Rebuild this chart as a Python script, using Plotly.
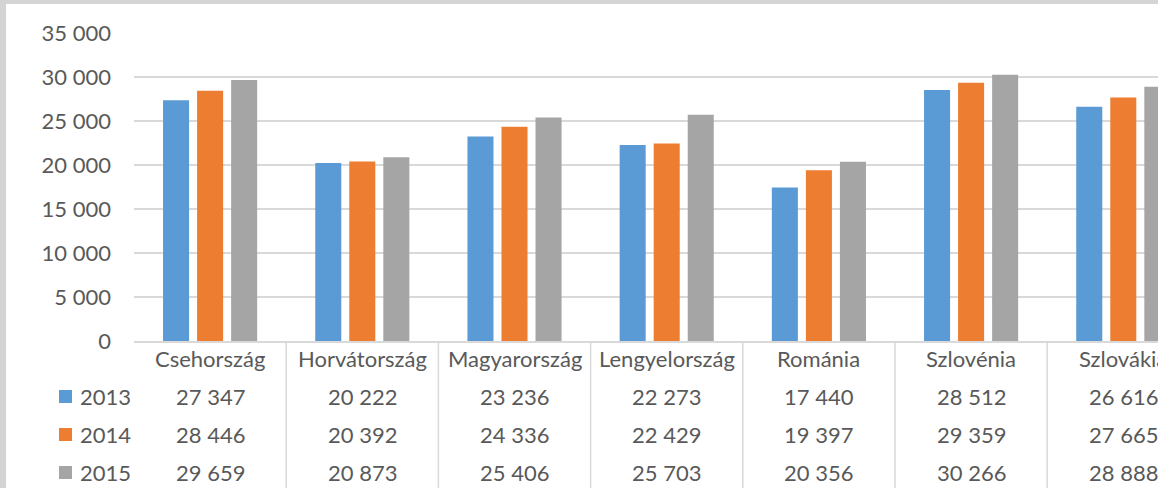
import plotly.graph_objects as go

categories = ["Csehország", "Horvátország", "Magyarország", "Lengyelország",
              "Románia", "Szlovénia", "Szlovákia"]
years = ["2013", "2014", "2015"]
v2013 = [27347, 20222, 23236, 22273, 17440, 28512, 26616]
v2014 = [28446, 20392, 24336, 22429, 19397, 29359, 27665]
v2015 = [29659, 20873, 25406, 25703, 20356, 30266, 28888]
series = [v2013, v2014, v2015]
colors = ["#5B9BD5", "#ED7D31", "#A5A5A5"]
tickvals = [0, 5000, 10000, 15000, 20000, 25000, 30000, 35000]

W, H = 1158, 488
L, R, T, B = 134, 0, 33, 147
pw, ph = W - L - R, H - T - B
cat_w = 152.2
FONT = "Lato"
TXT = "#595959"
FS = 22


def px_x(x):
    return (x - L) / pw


def px_y(y):
    return (H - B - y) / ph


def fmt(v):
    return f"{v:,}".replace(",", " ")


fig = go.Figure()
for name, vals, c in zip(years, series, colors):
    fig.add_trace(go.Bar(x=categories, y=vals, name=name, marker_color=c,
                         marker_line_width=0, showlegend=False))

annotations = []
shapes = []
# white chart area on gray frame
shapes.append(dict(type="rect", xref="paper", yref="paper",
                   x0=px_x(6), x1=px_x(W + 10), y0=px_y(H + 10), y1=px_y(4),
                   fillcolor="white", line_width=0, layer="below"))
# category row
for c in categories:
    annotations.append(dict(x=c, y=px_y(358), xref="x", yref="paper", text=c,
                            showarrow=False, font=dict(family=FONT, size=FS, color=TXT),
                            xanchor="center", yanchor="middle"))
row_y = [396, 434, 472]
for yr, vals, col, ry in zip(years, series, colors, row_y):
    shapes.append(dict(type="rect", xref="paper", yref="paper",
                       x0=px_x(59), x1=px_x(72), y0=px_y(ry + 7), y1=px_y(ry - 6),
                       fillcolor=col, line_width=0))
    annotations.append(dict(x=px_x(78), y=px_y(ry), xref="paper", yref="paper", text=yr,
                            showarrow=False, font=dict(family=FONT, size=FS, color=TXT),
                            xanchor="left", yanchor="middle"))
    for c, v in zip(categories, vals):
        annotations.append(dict(x=c, y=px_y(ry), xref="x", yref="paper", text=fmt(v),
                                showarrow=False, font=dict(family=FONT, size=FS, color=TXT),
                                xanchor="center", yanchor="middle"))
# table vertical lines
for i in range(len(categories) - 1):
    shapes.append(dict(type="line", xref="x", yref="paper", x0=i + 0.5, x1=i + 0.5,
                       y0=0, y1=px_y(H + 5), line=dict(color="#D9D9D9", width=1.5)))

fig.update_layout(
    width=W, height=H,
    margin=dict(l=L, r=R, t=T, b=B, autoexpand=False),
    paper_bgcolor="#D4D4D4", plot_bgcolor="rgba(0,0,0,0)",
    barmode="group", bargap=0.329, bargroupgap=0.235,
    shapes=shapes, annotations=annotations,
    font=dict(family=FONT, color=TXT),
)
fig.update_xaxes(range=[-0.5, -0.5 + pw / cat_w], showticklabels=False,
                 showline=True, linecolor="#D9D9D9", linewidth=1.5,
                 showgrid=False, zeroline=False, fixedrange=True)
fig.update_yaxes(range=[0, 35000], tickvals=tickvals,
                 ticktext=[fmt(v) for v in tickvals],
                 tickfont=dict(family=FONT, size=FS, color=TXT),
                 ticklabelstandoff=22,
                 showgrid=True, gridcolor="#D9D9D9", gridwidth=1.5,
                 zeroline=False, showline=False)

fig.write_html("out.html", config={"displayModeBar": False},
               post_script="document.body.style.margin='0';document.body.style.overflow='hidden';")
